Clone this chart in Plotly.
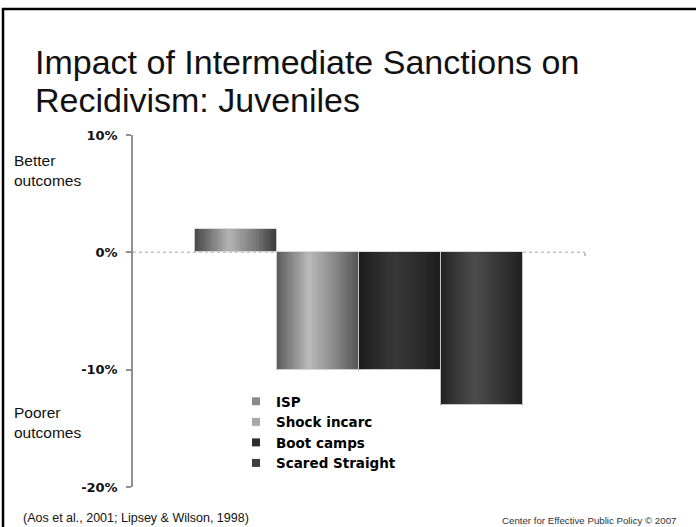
import numpy as np
import plotly.graph_objects as go

# ---- data -------------------------------------------------------------
programs = ["ISP", "Shock incarc", "Boot camps", "Scared Straight"]
recidivism_effect = [2, -10, -10, -13]          # percent change
y_tick_values = [10, 0, -10, -20]
y_tick_labels = ["10%", "0%", "-10%", "-20%"]

# ---- style ------------------------------------------------------------
W, H = 696, 527
PL, PR, PT, PB = 133, 585, 135, 487            # plot area in pixels

# horizontal shading profile for each cylinder-like bar: (positions, gray levels)
shading = {
    "ISP":             ([0.0, 0.12, 0.42, 0.75, 1.0], [72, 100, 180, 120, 58]),
    "Shock incarc":    ([0.0, 0.12, 0.40, 0.75, 1.0], [88, 120, 186, 130, 84]),
    "Boot camps":      ([0.0, 0.15, 0.45, 0.80, 1.0], [26, 38, 56, 40, 28]),
    "Scared Straight": ([0.0, 0.15, 0.42, 0.80, 1.0], [34, 50, 76, 48, 32]),
}
legend_swatch = {
    "ISP": "#8a8a8a",
    "Shock incarc": "#a8a8a8",
    "Boot camps": "#2e2e2e",
    "Scared Straight": "#3e3e3e",
}
group_fraction = 0.7257      # share of the category slot taken by the bar group
n_stripes = 48


def px(x):
    return (x - PL) / (PR - PL)


def py(y):
    return (PB - y) / (PB - PT)


def gray(v):
    v = int(round(v))
    return f"rgb({v},{v},{v})"


fig = go.Figure()

bar_w = group_fraction / len(programs)
group_left = -group_fraction / 2
for i, (name, val) in enumerate(zip(programs, recidivism_effect)):
    left = group_left + i * bar_w
    t = (np.arange(n_stripes) + 0.5) / n_stripes
    xs = left + t * bar_w
    pos, lev = shading[name]
    cols = [gray(g) for g in np.interp(t, pos, lev)]
    fig.add_trace(go.Bar(
        x=xs, y=[val] * n_stripes, width=bar_w / n_stripes * 1.15,
        marker=dict(color=cols, line=dict(width=0)),
        showlegend=False, hoverinfo="skip",
    ))
    # thin light outline around the whole bar
    fig.add_trace(go.Bar(
        x=[left + bar_w / 2], y=[val], width=bar_w,
        marker=dict(color="rgba(0,0,0,0)",
                    line=dict(color="rgba(215,215,215,0.9)", width=1)),
        showlegend=False, hoverinfo="skip",
    ))

# legend entries
for name in programs:
    fig.add_trace(go.Scatter(
        x=[None], y=[None], mode="markers", name=name,
        marker=dict(symbol="square", size=8, color=legend_swatch[name]),
    ))

# dotted zero line across the plot
fig.add_shape(type="line", xref="paper", yref="y", x0=0, x1=1, y0=0, y1=0,
              line=dict(color="#c4c4c4", width=1.5, dash="dot"), layer="below")

# slide frame (left and top rules)
fig.add_shape(type="line", xref="paper", yref="paper",
              x0=px(3), x1=px(3), y0=py(8), y1=py(H + 5),
              line=dict(color="black", width=2.5))
fig.add_shape(type="line", xref="paper", yref="paper",
              x0=px(2), x1=px(W + 5), y0=py(9), y1=py(9),
              line=dict(color="black", width=2.5))

title_font = dict(family="Liberation Sans, Arial", size=34, color="#111111")
side_font = dict(family="Liberation Sans, Arial", size=15.5, color="#111111")

ann = [
    dict(text="Impact of Intermediate Sanctions on", x=px(33), y=py(62),
         xanchor="left", yanchor="middle", font=title_font),
    dict(text="Recidivism: Juveniles", x=px(33), y=py(100),
         xanchor="left", yanchor="middle", font=title_font),
    dict(text="Better<br>outcomes", x=px(12), y=py(170), align="left",
         xanchor="left", yanchor="middle", font=side_font),
    dict(text="Poorer<br>outcomes", x=px(12), y=py(422), align="left",
         xanchor="left", yanchor="middle", font=side_font),
    dict(text="(Aos et al., 2001; Lipsey & Wilson, 1998)", x=px(21), y=py(518),
         xanchor="left", yanchor="middle",
         font=dict(family="Liberation Sans, Arial", size=12.5, color="#111111")),
    dict(text="Center for Effective Public Policy © 2007", x=px(678), y=py(520),
         xanchor="right", yanchor="middle",
         font=dict(family="Liberation Sans, Arial", size=9.7, color="#333333")),
]
for a in ann:
    a.update(xref="paper", yref="paper", showarrow=False)

fig.update_layout(
    width=W, height=H,
    margin=dict(l=PL, r=W - PR, t=PT, b=H - PB, pad=0),
    paper_bgcolor="white", plot_bgcolor="white",
    barmode="overlay", bargap=0,
    annotations=ann,
    showlegend=True,
    legend=dict(
        x=px(236), y=py(386), xanchor="left", yanchor="top",
        font=dict(family="DejaVu Sans", size=13.5, color="black", weight="bold"),
        bgcolor="rgba(0,0,0,0)", borderwidth=0, itemwidth=30,
        tracegroupgap=0, traceorder="normal",
    ),
    xaxis=dict(
        range=[-0.5, 0.5], anchor="free", position=py(252.3),
        showgrid=False, zeroline=False, showline=False,
        showticklabels=False, ticks="outside", tickvals=[0.5],
        ticklen=3, tickcolor="#c4c4c4", tickwidth=1.5,
    ),
    yaxis=dict(
        range=[-20, 10], tickvals=y_tick_values, ticktext=y_tick_labels,
        showgrid=False, zeroline=False,
        showline=True, linecolor="#8f8f8f", linewidth=1.5,
        ticks="outside", ticklen=5, tickcolor="#8f8f8f", tickwidth=1.5,
        ticklabelstandoff=6,
        tickfont=dict(family="DejaVu Sans", size=13, color="#111111", weight="bold"),
    ),
)

fig.write_html("out.html")
